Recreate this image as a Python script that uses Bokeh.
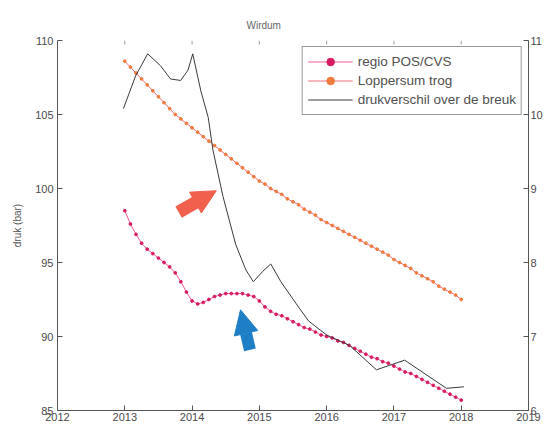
from bokeh.plotting import figure
from bokeh.models import Range1d, LinearAxis, Legend, LegendItem, Arrow, NormalHead, FixedTicker
from bokeh.embed import file_html
from bokeh.resources import INLINE

title_text = "Wirdum"
y_label = "druk (bar)"
series_names = ["regio POS/CVS", "Loppersum trog", "drukverschil over de breuk"]
x_ticks = [2012, 2013, 2014, 2015, 2016, 2017, 2018, 2019]
y_ticks = [85, 90, 95, 100, 105, 110]
y2_ticks = [6, 7, 8, 9, 10, 11]

# monthly values, Jan 2013 .. Jan 2018
months = [2013 + i / 12 for i in range(61)]
regio_pos_cvs = [
    98.5, 97.6, 96.9, 96.3, 95.9, 95.6, 95.3, 95.0, 94.7, 94.3, 93.7, 93.0,
    92.4, 92.2, 92.3, 92.5, 92.7, 92.8, 92.9, 92.9, 92.9, 92.9, 92.8, 92.7,
    92.4, 92.0, 91.7, 91.5, 91.4, 91.2, 91.0, 90.8, 90.6, 90.5, 90.3, 90.1,
    90.0, 89.9, 89.7, 89.6, 89.4, 89.2, 89.0, 88.8, 88.6, 88.5, 88.3, 88.2,
    88.0, 87.8, 87.6, 87.5, 87.3, 87.1, 86.9, 86.7, 86.5, 86.3, 86.1, 85.9,
    85.7,
]
loppersum_trog = [
    108.6, 108.2, 107.8, 107.4, 107.0, 106.6, 106.2, 105.8, 105.4, 105.0, 104.7, 104.4,
    104.1, 103.8, 103.5, 103.2, 102.9, 102.6, 102.3, 102.0, 101.7, 101.4, 101.1, 100.8,
    100.5, 100.3, 100.0, 99.8, 99.6, 99.3, 99.1, 98.9, 98.6, 98.4, 98.2, 97.9,
    97.7, 97.5, 97.3, 97.1, 96.9, 96.7, 96.5, 96.3, 96.1, 95.9, 95.7, 95.5,
    95.2, 95.0, 94.8, 94.6, 94.3, 94.1, 93.9, 93.7, 93.4, 93.2, 93.0, 92.8,
    92.5,
]
# pressure difference across the fault (right axis)
dp_years = [2012.98, 2013.16, 2013.34, 2013.53, 2013.68, 2013.83, 2013.94, 2014.01,
            2014.13, 2014.24, 2014.31, 2014.46, 2014.65, 2014.80, 2014.91, 2015.05,
            2015.17, 2015.32, 2015.55, 2015.73, 2016.00, 2016.34, 2016.74, 2017.16,
            2017.78, 2018.04]
dp_values = [10.08, 10.52, 10.82, 10.66, 10.48, 10.46, 10.60, 10.82,
             10.32, 9.96, 9.52, 8.89, 8.24, 7.90, 7.74, 7.88,
             7.98, 7.74, 7.44, 7.21, 7.02, 6.88, 6.55, 6.68,
             6.30, 6.32]

# annotation arrows (data coordinates)
red_arrow = dict(x_start=2013.80, y_start=98.4, x_end=2014.36, y_end=99.85)
blue_arrow = dict(x_start=2014.86, y_start=89.1, x_end=2014.72, y_end=91.8)

FONT = "Liberation Sans"
TXT = "#4a4a4a"
Y_MIN, Y_MAX = 85, 110

p = figure(width=545, height=429, output_backend="svg", toolbar_location=None,
           x_range=Range1d(2012, 2019), y_range=Range1d(Y_MIN, Y_MAX),
           min_border_left=57, min_border_right=17, min_border_top=40, min_border_bottom=19)
p.extra_y_ranges = {"right": Range1d(6, 11)}
p.outline_line_color = None
p.grid.visible = False
p.background_fill_color = "white"

p.title.text = title_text
p.title.align = "left"
p.title.offset = 189
p.title.standoff = 20
p.title.text_font = FONT
p.title.text_font_size = "10px"
p.title.text_font_style = "normal"
p.title.text_color = "#666666"

for ax in [p.xaxis[0], p.yaxis[0]]:
    ax.axis_line_color = "#555555"
    ax.major_tick_line_color = "#555555"
    ax.major_tick_in = 5
    ax.major_tick_out = 0
    ax.minor_tick_line_color = None
    ax.major_label_text_font = FONT
    ax.major_label_text_font_size = "11px"
    ax.major_label_text_color = TXT
p.xaxis[0].ticker = FixedTicker(ticks=x_ticks)
p.xaxis[0].major_label_standoff = 2
p.yaxis[0].ticker = FixedTicker(ticks=y_ticks)
p.yaxis[0].major_label_standoff = 4
p.yaxis[0].axis_label = y_label
p.yaxis[0].axis_label_text_font = FONT
p.yaxis[0].axis_label_text_font_size = "10px"
p.yaxis[0].axis_label_text_font_style = "normal"
p.yaxis[0].axis_label_text_color = "#555555"
p.yaxis[0].axis_label_standoff = 9

right = LinearAxis(y_range_name="right", ticker=FixedTicker(ticks=y2_ticks))
right.axis_line_color = "#555555"
right.major_tick_line_color = "#555555"
right.major_tick_in = 5
right.major_tick_out = 0
right.minor_tick_line_color = None
right.major_label_text_font = FONT
right.major_label_text_font_size = "11px"
right.major_label_text_color = TXT
right.major_label_standoff = 2
p.add_layout(right, "right")

# faint inward ticks along the (faded) top edge, at the x tick positions
tick_len = (Y_MAX - Y_MIN) * 4 / 370
p.segment(x0=x_ticks, y0=[Y_MAX] * len(x_ticks), x1=x_ticks,
          y1=[Y_MAX - tick_len] * len(x_ticks), line_color="#9a9a9a", line_width=1)

r1l = p.line(months, regio_pos_cvs, line_color="#ee5a98", line_width=1)
r1m = p.scatter(months, regio_pos_cvs, size=2.8, marker="circle",
                fill_color="#d81b62", line_color="#d81b62")
r2l = p.line(months, loppersum_trog, line_color="#ef6a78", line_width=1)
r2m = p.scatter(months, loppersum_trog, size=2.8, marker="circle",
                fill_color="#ee7a3c", line_color="#ee7a3c")
r3 = p.line(dp_years, dp_values, y_range_name="right", line_color="#3a3a3a", line_width=1)

p.add_layout(Arrow(end=NormalHead(size=24, fill_color="#f0604c", line_color="#f0604c"),
                   line_color="#f0604c", line_width=13, **red_arrow))
p.add_layout(Arrow(end=NormalHead(size=24, fill_color="#1f7fc6", line_color="#1f7fc6"),
                   line_color="#1f7fc6", line_width=12, **blue_arrow))

legend = Legend(items=[
    LegendItem(label=series_names[0], renderers=[r1l, r1m]),
    LegendItem(label=series_names[1], renderers=[r2l, r2m]),
    LegendItem(label=series_names[2], renderers=[r3]),
], location="top_right")
legend.margin = 6
legend.padding = 5
legend.spacing = 0
legend.label_text_font = FONT
legend.label_text_font_size = "13.5px"
legend.label_text_color = "#505050"
legend.label_height = 19
legend.glyph_height = 19
legend.glyph_width = 45
legend.label_standoff = 5
legend.border_line_color = "#333333"
legend.border_line_width = 1
legend.background_fill_alpha = 1
p.add_layout(legend)

open("out.html", "w").write(file_html(p, INLINE))
